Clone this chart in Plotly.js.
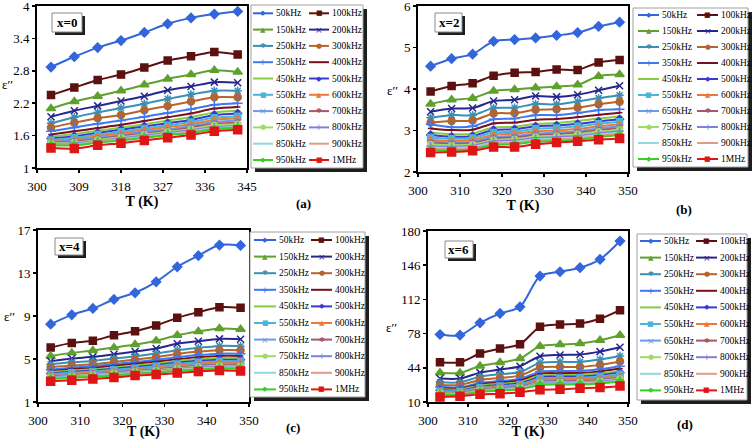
<!DOCTYPE html>
<html><head><meta charset="utf-8">
<script src="https://cdn.plot.ly/plotly-3.0.1.min.js"></script>
<style>html,body{margin:0;padding:0;background:#fff}#chart{width:756px;height:440px}</style>
</head><body><div id="chart"></div>
<script>
// ---------- DATA ----------
const freqLabels = ['50kHz','100kHz','150kHz','200kHz','250kHz','300kHz','350kHz','400kHz','450kHz','500kHz',
  '550kHz','600kHz','650kHz','700kHz','750kHz','800kHz','850kHz','900kHz','950kHz','1MHz'];
const tempX0 = [303,308,313,318,323,328,333,338,343];
const tempOther = [303,308,313,318,323,328,333,338,343,348];
const compositions = ['x=0','x=2','x=4','x=6'];
const panelTags = ['(a)','(b)','(c)','(d)'];
const xTicksA = [300,309,318,327,336,345];
const xTicksBCD = [300,310,320,330,340,350];
const yTicksA = [1,1.6,2.2,2.8,3.4,4];
const yTicksB = [2,3,4,5,6];
const yTicksC = [1,5,9,13,17];
const yTicksD = [10,44,78,112,146,180];

const epsX0 = [
 [2.87,3.06,3.23,3.36,3.51,3.67,3.78,3.85,3.90],
 [2.35,2.49,2.63,2.73,2.86,2.99,3.07,3.15,3.10],
 [2.10,2.23,2.33,2.43,2.54,2.65,2.73,2.81,2.78],
 [1.95,2.06,2.15,2.24,2.33,2.44,2.51,2.59,2.58],
 [1.83,1.94,2.03,2.11,2.19,2.28,2.36,2.43,2.43],
 [1.75,1.84,1.92,1.98,2.07,2.15,2.23,2.31,2.31],
 [1.68,1.75,1.82,1.88,1.95,2.02,2.09,2.17,2.20],
 [1.62,1.68,1.74,1.80,1.87,1.94,2.01,2.10,2.13],
 [1.58,1.63,1.69,1.75,1.81,1.88,1.94,2.03,2.06],
 [1.55,1.59,1.65,1.71,1.77,1.83,1.89,1.98,2.01],
 [1.52,1.56,1.62,1.67,1.73,1.79,1.85,1.93,1.96],
 [1.50,1.53,1.59,1.64,1.70,1.76,1.81,1.89,1.92],
 [1.48,1.51,1.56,1.61,1.67,1.72,1.78,1.85,1.88],
 [1.47,1.49,1.54,1.59,1.64,1.69,1.75,1.82,1.84],
 [1.46,1.47,1.52,1.57,1.62,1.67,1.72,1.79,1.81],
 [1.45,1.46,1.50,1.55,1.60,1.65,1.70,1.76,1.78],
 [1.44,1.44,1.49,1.53,1.58,1.63,1.68,1.74,1.76],
 [1.43,1.43,1.48,1.52,1.57,1.62,1.66,1.73,1.75],
 [1.42,1.42,1.47,1.51,1.56,1.61,1.65,1.72,1.74],
 [1.37,1.36,1.42,1.46,1.51,1.56,1.61,1.68,1.71]
];
const epsX2 = [
 [4.55,4.73,4.84,5.15,5.19,5.23,5.29,5.36,5.51,5.61],
 [3.94,4.07,4.14,4.32,4.39,4.41,4.47,4.46,4.64,4.70],
 [3.64,3.74,3.78,3.95,3.99,4.03,4.06,4.10,4.31,4.35],
 [3.45,3.53,3.54,3.71,3.74,3.83,3.81,3.86,3.97,4.08],
 [3.31,3.37,3.37,3.54,3.55,3.64,3.63,3.70,3.78,3.85],
 [3.19,3.23,3.24,3.41,3.42,3.50,3.51,3.55,3.63,3.69],
 [3.15,3.08,3.10,3.27,3.29,3.37,3.37,3.42,3.49,3.51],
 [3.05,3.01,3.02,3.17,3.19,3.26,3.28,3.32,3.38,3.43],
 [2.95,2.91,2.93,3.07,3.09,3.16,3.18,3.23,3.29,3.34],
 [2.89,2.85,2.87,3.01,3.03,3.10,3.12,3.16,3.22,3.27],
 [2.83,2.80,2.82,2.95,2.97,3.04,3.06,3.10,3.16,3.21],
 [2.78,2.75,2.77,2.90,2.92,2.98,3.00,3.04,3.10,3.15],
 [2.74,2.71,2.73,2.85,2.87,2.93,2.95,2.99,3.05,3.10],
 [2.70,2.68,2.70,2.81,2.83,2.89,2.91,2.95,3.01,3.06],
 [2.66,2.64,2.66,2.77,2.79,2.85,2.87,2.91,2.97,3.02],
 [2.62,2.61,2.63,2.74,2.76,2.82,2.84,2.87,2.93,2.98],
 [2.59,2.58,2.60,2.71,2.73,2.79,2.81,2.84,2.90,2.95],
 [2.56,2.55,2.57,2.68,2.70,2.76,2.78,2.81,2.87,2.92],
 [2.53,2.52,2.55,2.65,2.67,2.73,2.75,2.78,2.84,2.89],
 [2.47,2.48,2.51,2.60,2.60,2.67,2.71,2.74,2.78,2.81]
];
const epsX4 = [
 [8.24,9.11,9.70,10.54,11.16,12.18,13.58,14.61,15.60,15.56],
 [6.06,6.50,6.69,7.21,7.59,8.12,8.83,9.36,9.82,9.76],
 [5.29,5.57,5.79,6.06,6.34,6.69,7.21,7.56,7.84,7.77],
 [4.79,5.04,5.20,5.44,5.69,5.97,6.41,6.66,6.87,6.84],
 [4.51,4.70,4.82,5.04,5.26,5.51,5.82,6.03,6.22,6.19],
 [4.23,4.39,4.51,4.73,4.95,5.16,5.47,5.69,5.82,5.82],
 [4.01,4.19,4.32,4.52,4.72,4.93,5.17,5.37,5.50,5.50],
 [3.88,4.05,4.17,4.36,4.55,4.75,4.98,5.17,5.29,5.29],
 [3.76,3.92,4.04,4.22,4.40,4.59,4.81,4.99,5.10,5.10],
 [3.66,3.81,3.93,4.10,4.27,4.45,4.66,4.83,4.93,4.94],
 [3.57,3.72,3.83,3.99,4.15,4.33,4.53,4.69,4.79,4.80],
 [3.49,3.63,3.74,3.89,4.05,4.22,4.41,4.57,4.66,4.67],
 [3.42,3.56,3.66,3.81,3.96,4.12,4.30,4.46,4.55,4.56],
 [3.36,3.49,3.59,3.73,3.88,4.03,4.21,4.36,4.45,4.46],
 [3.31,3.43,3.53,3.67,3.81,3.96,4.13,4.28,4.37,4.38],
 [3.26,3.38,3.47,3.61,3.75,3.89,4.06,4.20,4.29,4.30],
 [3.22,3.33,3.42,3.56,3.69,3.83,3.99,4.13,4.22,4.23],
 [3.18,3.29,3.38,3.51,3.64,3.78,3.93,4.07,4.16,4.17],
 [3.14,3.25,3.34,3.47,3.60,3.73,3.88,4.02,4.10,4.11],
 [2.93,3.02,3.14,3.27,3.46,3.55,3.70,3.83,3.92,3.89]
];
const epsX6 = [
 [77.1,76.4,88.7,98.0,104.6,135.2,139.5,143.5,151.8,170.0],
 [49.5,49.5,58.2,63.1,67.4,84.7,87.0,88.0,92.7,101.3],
 [39.2,38.9,45.9,49.2,53.2,65.5,67.1,68.1,71.4,76.4],
 [33.3,33.3,39.2,42.2,45.5,55.5,56.8,57.2,60.1,64.5],
 [29.6,29.6,35.2,37.6,39.9,48.9,49.9,49.9,52.2,55.8],
 [27.0,27.0,31.9,33.9,36.2,44.2,44.9,44.9,46.9,50.2],
 [24.8,24.6,29.0,30.9,32.9,40.2,40.8,41.0,42.6,45.6],
 [23.6,23.4,27.6,29.4,31.3,38.1,38.7,38.9,40.4,43.2],
 [22.6,22.4,26.4,28.1,29.9,36.3,36.9,37.1,38.5,41.1],
 [21.7,21.5,25.3,26.9,28.6,34.7,35.2,35.4,36.8,39.2],
 [20.9,20.8,24.4,25.9,27.5,33.3,33.8,34.0,35.3,37.6],
 [20.2,20.1,23.6,25.0,26.6,32.1,32.6,32.8,34.0,36.2],
 [19.6,19.5,22.9,24.3,25.8,31.0,31.5,31.7,32.9,35.0],
 [19.1,19.0,22.3,23.6,25.1,30.1,30.6,30.8,31.9,33.9],
 [18.7,18.6,21.8,23.0,24.4,29.3,29.7,29.9,31.0,33.0],
 [18.3,18.2,21.3,22.5,23.9,28.6,29.0,29.2,30.3,32.2],
 [17.9,17.8,20.9,22.1,23.4,28.0,28.4,28.6,29.6,31.5],
 [17.6,17.5,20.5,21.7,23.0,27.5,27.9,28.0,29.0,30.8],
 [17.3,17.2,20.2,21.3,22.6,27.0,27.4,27.5,28.5,30.2],
 [15.0,15.7,17.6,18.3,19.6,22.3,22.6,23.6,24.3,26.0]
];

// ---------- STYLES ----------
const seriesColors = ['#3366dd','#5c1010','#5fa02f','#26268f','#3a8fb5','#b5652b','#3d7af0','#7a0f1e','#86cc3f','#3a3ad0',
  '#4ab5d8','#ea7a35','#6c9ce6','#a8566a','#9edb6a','#8080dc','#8fd8dd','#e39a85','#3ccc2c','#e01515'];
const seriesSymbols = ['diamond','square','triangle-up','x-thin-open','asterisk-open','circle','cross-thin-open','line-ew-open','line-ew-open','diamond',
  'square','triangle-up','x-thin-open','asterisk-open','circle','cross-thin-open','line-ew-open','line-ew-open','diamond','square'];
const seriesSizes = [7,7,8,7,7,7,7,4,4,6,6,6,6,6,6,6,4,4,6,8];
const glyphs = {'diamond':'◆','square':'■','triangle-up':'▲','x-thin-open':'×','asterisk-open':'✱','circle':'●','cross-thin-open':'+','line-ew-open':''};

const W = 756, H = 440;
const SERIF = "'Times New Roman','Liberation Serif',serif";
const px = v => v / W, py = v => 1 - v / H;

const panels = [
  {eps: epsX0, temps: tempX0, xr:[300,345], xt:xTicksA, yr:[1,4], yt:yTicksA,
   plot:{l:37,r:247,t:6,b:168}, eLab:[7,85], tag:[303,203],
   xbox:[52,13,82,32],
   leg:{box:[251,5,363,168], c1:[253,273,275], c2:[309,329,331], y0:13.3, dy:16.3}},
  {eps: epsX2, temps: tempOther, xr:[300,350], xt:xTicksBCD, yr:[2,6], yt:yTicksB,
   plot:{l:418,r:628,t:6,b:172}, eLab:[392,90], tag:[684,209],
   xbox:[435,13,462,32],
   leg:{box:[633,8,748,167], c1:[638,659,661], c2:[697,718,719.5], y0:15, dy:16.0}},
  {eps: epsX4, temps: tempOther, xr:[300,350], xt:xTicksBCD, yr:[1,17], yt:yTicksC,
   plot:{l:38,r:249,t:230,b:402}, eLab:[9,316], tag:[293,427],
   xbox:[55,238,83,255],
   leg:{box:[250,232,365,397], c1:[254,276,277.5], c2:[311,332,333.5], y0:240, dy:16.6}},
  {eps: epsX6, temps: tempOther, xr:[300,350], xt:xTicksBCD, yr:[10,180], yt:yTicksD,
   plot:{l:428,r:628,t:231,b:402}, eLab:[391,327], tag:[685,424],
   xbox:[445,241,473,258],
   leg:{box:[637,234,747,400], c1:[640,661,663], c2:[696,717,718.5], y0:241, dy:16.6}}
];

const traces = [];
const layout = {
  width: W, height: H, margin:{l:0,r:0,t:0,b:0}, showlegend:false,
  paper_bgcolor:'#fff', plot_bgcolor:'#fff',
  font:{family:SERIF, size:12, color:'#000'},
  shapes:[], annotations:[]
};
function note(x, y, text, font, xanchor) {
  layout.annotations.push({xref:'paper', yref:'paper', x:px(x), y:py(y), text:text, showarrow:false,
    xanchor: xanchor || 'center', yanchor:'middle', borderpad:0, font:font});
}

panels.forEach((p, k) => {
  const sfx = k === 0 ? '' : String(k + 1);
  const xa = 'x' + sfx, ya = 'y' + sfx;
  p.eps.forEach((vals, i) => {
    traces.push({
      type:'scatter', mode:'lines+markers', name:freqLabels[i],
      x:p.temps, y:vals, xaxis:xa, yaxis:ya, cliponaxis:false,
      line:{color:seriesColors[i], width:2, shape:'spline', smoothing:0.8},
      marker:{symbol:seriesSymbols[i], size:seriesSizes[i], color:seriesColors[i],
              line:{color:seriesColors[i], width:1.5}}
    });
  });
  const axBase = {showgrid:false, zeroline:false, showline:true, mirror:true, linecolor:'#000', linewidth:2,
    ticks:'outside', ticklen:3, tickwidth:1.5, tickcolor:'#000', fixedrange:true, ticklabeloverflow:'allow',
    tickfont:{family:SERIF, size:13, color:'#000'}};
  layout['xaxis' + sfx] = Object.assign({}, axBase, {
    domain:[px(p.plot.l), px(p.plot.r)], range:p.xr, tickvals:p.xt, anchor:ya,
    ticklabelstandoff:2,
    title:{text:'T (K)', font:{family:SERIF, size:14, weight:'bold', color:'#000'}, standoff:4}
  });
  layout['yaxis' + sfx] = Object.assign({}, axBase, {
    domain:[py(p.plot.b), py(p.plot.t)], range:p.yr, tickvals:p.yt, anchor:xa,
    ticklabelstandoff:0
  });
  note(p.eLab[0], p.eLab[1], 'ε′′', {family:'Liberation Serif', size:13, color:'#000'});
  note(p.tag[0], p.tag[1], panelTags[k], {family:SERIF, size:13, weight:'bold', color:'#000'});
  // composition box with shadow
  const b = p.xbox;
  layout.shapes.push({type:'rect', xref:'paper', yref:'paper', x0:px(b[0]+3), x1:px(b[2]+3), y0:py(b[3]+3), y1:py(b[1]+3),
    fillcolor:'#1e1e1e', line:{width:0}, layer:'above'});
  layout.shapes.push({type:'rect', xref:'paper', yref:'paper', x0:px(b[0]), x1:px(b[2]), y0:py(b[3]), y1:py(b[1]),
    fillcolor:'#fff', line:{color:'#8a8a8a', width:1}, layer:'above'});
  note((b[0]+b[2])/2, (b[1]+b[3])/2, compositions[k], {family:SERIF, size:13, weight:'bold', color:'#000'});
  // legend box
  const L = p.leg, lb = L.box;
  layout.shapes.push({type:'rect', xref:'paper', yref:'paper', x0:px(lb[0]+4), x1:px(lb[2]+4), y0:py(lb[3]+4), y1:py(lb[1]+4),
    fillcolor:'#1e1e1e', line:{width:0}, layer:'above'});
  layout.shapes.push({type:'rect', xref:'paper', yref:'paper', x0:px(lb[0]), x1:px(lb[2]), y0:py(lb[3]), y1:py(lb[1]),
    fillcolor:'#fff', line:{color:'#a0a0a0', width:1}, layer:'above'});
  freqLabels.forEach((name, i) => {
    const c = (i % 2 === 0) ? L.c1 : L.c2;
    const yy = L.y0 + Math.floor(i / 2) * L.dy;
    layout.shapes.push({type:'line', xref:'paper', yref:'paper', x0:px(c[0]), x1:px(c[1]), y0:py(yy), y1:py(yy),
      line:{color:seriesColors[i], width:2}, layer:'above'});
    const g = glyphs[seriesSymbols[i]];
    if (g) note((c[0]+c[1])/2, yy, g, {family:'DejaVu Sans', size:(g === '+' || g === '×') ? 9 : 7, color:seriesColors[i]});
    note(c[2], yy, name, {family:SERIF, size:9.5, color:'#000'}, 'left');
  });
});

Plotly.newPlot('chart', traces, layout, {staticPlot:true, displayModeBar:false});
</script>
</body></html>
